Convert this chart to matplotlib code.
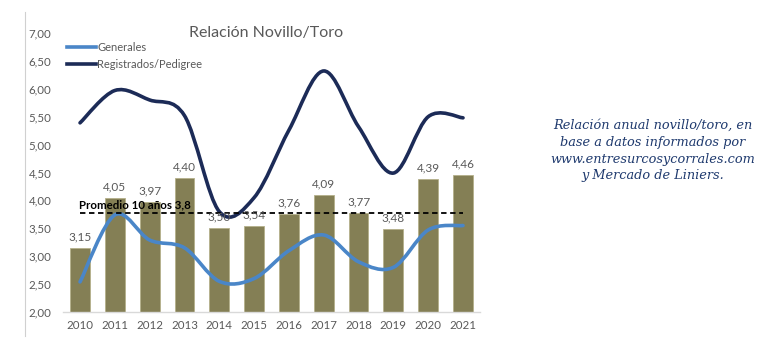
import matplotlib
matplotlib.use("Agg")
from matplotlib import pyplot as plt
from matplotlib.path import Path
from matplotlib.patches import PathPatch
from matplotlib.lines import Line2D
import numpy as np

years = ["2010", "2011", "2012", "2013", "2014", "2015", "2016", "2017", "2018", "2019", "2020", "2021"]
bar_vals = [3.15, 4.05, 3.97, 4.40, 3.50, 3.54, 3.76, 4.09, 3.77, 3.48, 4.39, 4.46]
generales = [2.54, 3.74, 3.29, 3.15, 2.55, 2.60, 3.10, 3.38, 2.90, 2.80, 3.47, 3.55]
registrados = [5.39, 5.97, 5.80, 5.52, 3.80, 4.05, 5.26, 6.32, 5.32, 4.49, 5.50, 5.48]
promedio = 3.77
yticks = [2.0, 2.5, 3.0, 3.5, 4.0, 4.5, 5.0, 5.5, 6.0, 6.5, 7.0]

plt.rcParams['font.family'] = ['Lato', 'DejaVu Sans']

def smooth_path(xs, ys):
    # excel-like smoothed line: cubic bezier segments through every point
    pts = np.column_stack([xs, ys]).astype(float)
    verts = [pts[0]]
    codes = [Path.MOVETO]
    n = len(pts)
    for i in range(n - 1):
        p0 = pts[i - 1] if i > 0 else pts[i]
        p1 = pts[i]
        p2 = pts[i + 1]
        p3 = pts[i + 2] if i + 2 < n else pts[i + 1]
        c1 = p1 + (p2 - p0) / 6.0
        c2 = p2 - (p3 - p1) / 6.0
        verts += [c1, c2, p2]
        codes += [Path.CURVE4] * 3
    return Path(verts, codes)

fig = plt.figure(figsize=(7.77, 3.52), dpi=100)
ax = fig.add_axes([0.0806, 0.1136, 0.5377, 0.7926])

x = np.arange(len(years))
ax.bar(x, bar_vals, width=0.57, color='#847f55', edgecolor='#b5b08a', linewidth=0.6, zorder=2)
for xi, v in zip(x, bar_vals):
    ax.text(xi, v + 0.1, ("%.2f" % v).replace('.', ','), ha='center', va='bottom',
            fontsize=8.5, color='#595959', zorder=5)

ax.plot([x[0], x[-1]], [promedio, promedio], color='black', linestyle=(0, (3, 2)), linewidth=1.3, zorder=4)
ax.text(x[0] - 0.02, promedio + 0.06, "Promedio 10 años 3,8", fontsize=8.3, fontweight='bold',
        color='black', ha='left', va='bottom', zorder=5)

ax.add_patch(PathPatch(smooth_path(x, generales), facecolor='none', edgecolor='#4a86c8',
                       linewidth=2.6, capstyle='round', zorder=3))
ax.add_patch(PathPatch(smooth_path(x, registrados), facecolor='none', edgecolor='#1c2b57',
                       linewidth=2.6, capstyle='round', zorder=3))

ax.legend(handles=[Line2D([], [], color='#4a86c8', lw=2.6, label='Generales'),
                   Line2D([], [], color='#1c2b57', lw=2.6, label='Registrados/Pedigree')],
          loc='upper left', bbox_to_anchor=(0.0, 0.985), frameon=False, fontsize=8,
          labelcolor='#595959', handlelength=2.6, handletextpad=0.1, borderaxespad=0,
          labelspacing=0.55)

ax.text(5.35, 7.0, "Relación Novillo/Toro", ha='center', va='center', fontsize=11.5, color='#595959')

ax.set_xlim(-0.5, len(years) - 0.5)
ax.set_ylim(2.0, 7.0)
ax.set_xticks(x)
ax.set_xticklabels(years)
ax.set_yticks(yticks)
ax.set_yticklabels([("%.2f" % t).replace('.', ',') for t in yticks])
ax.tick_params(axis='both', length=0, labelsize=8.3, labelcolor='#595959')
ax.tick_params(axis='x', pad=6)
ax.tick_params(axis='y', pad=8)
for s in ['top', 'right', 'left']:
    ax.spines[s].set_visible(False)
ax.spines['bottom'].set_color('#d9d9d9')
ax.spines['bottom'].set_linewidth(1)

# left border of the chart box
fig.add_artist(Line2D([25 / 777, 25 / 777], [1 - 12 / 352, 1 - 336 / 352], color='#d0d0d0', lw=0.8))

fig.text(0.84, 0.572, "Relación anual novillo/toro, en\nbase a datos informados por\nwww.entresurcosycorrales.com\ny Mercado de Liniers.",
         ha='center', va='center', fontsize=9.3, style='italic', color='#1f3a6e',
         family='DejaVu Serif', linespacing=1.38)

fig.savefig("out.png", dpi=100)
